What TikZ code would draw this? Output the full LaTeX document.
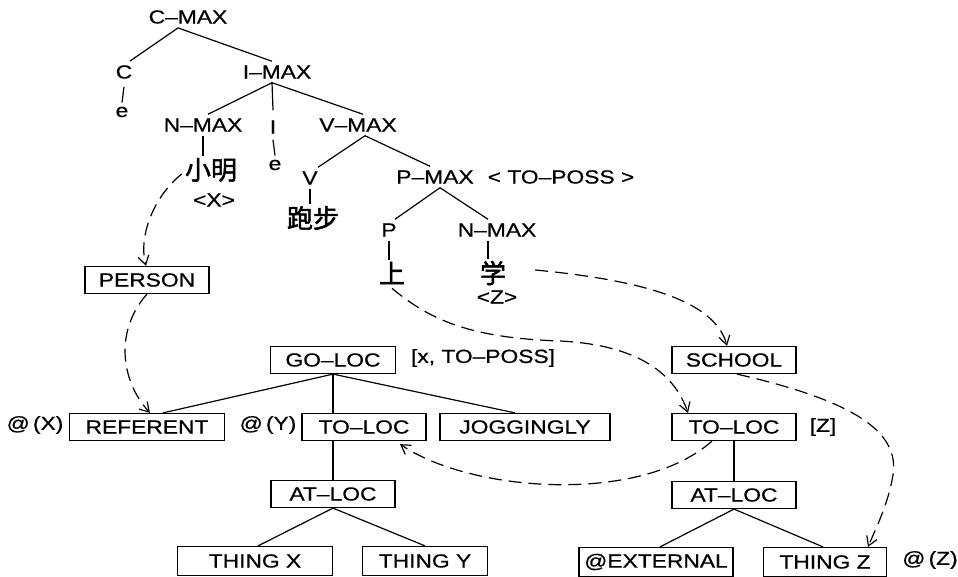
\documentclass[tikz,border=0pt]{standalone}
\usepackage{fontspec}
\setmainfont{Liberation Sans}[FakeStretch=1.2,FakeBold=0.6]
\newfontfamily\cjk{Noto Sans CJK SC}[FakeBold=2]
\usetikzlibrary{arrows.meta}
\begin{document}
\begin{tikzpicture}[x=1pt,y=-1pt,
  every node/.style={font=\fontsize{19}{22}\selectfont},
  lbl/.style={inner xsep=2pt, inner ysep=4pt},
  cj/.style={font=\fontsize{26}{28}\cjk, inner xsep=1pt, inner ysep=2pt},
  fbox/.style={draw, line width=1.2pt, minimum height=27pt, inner sep=0pt},
  edge/.style={line width=1.2pt},
  link/.style={line width=1.2pt, dash pattern=on 13pt off 7pt, -{Straight Barb[length=9pt,width=11pt]}}
]
\useasboundingbox (0,0) rectangle (958,577);
% ---- syntax tree
\node[lbl] (cmax) at (188,17) {C--MAX};
\node[lbl] (c) at (124,72) {C};
\node[lbl] (ce) at (122,112) {e};
\node[lbl] (imax) at (277,72) {I--MAX};
\node[lbl] (nmax) at (203,125) {N--MAX};
\node[cj] (xm) at (211,170) {小明};
\node[lbl] (xx) at (214,200) {<X>};
\node[lbl] (ii) at (273,127) {I};
\node[lbl] (ie) at (275,165) {e};
\node[lbl] (vmax) at (358,125) {V--MAX};
\node[lbl] (v) at (310,178) {V};
\node[cj] (pb) at (313,218) {跑步};
\node[lbl] (pmax) at (435,177) {P--MAX};
\node[lbl] (toposs) at (561,177) {< TO--POSS >};
\node[lbl] (p) at (389,230) {P};
\node[cj] (shang) at (392,273) {上};
\node[lbl] (nmaxb) at (497,230) {N--MAX};
\node[cj] (xue) at (493,273) {学};
\node[lbl] (zz) at (497,297) {<Z>};

\draw[edge] ([xshift=-10pt]cmax.south) -- ([xshift=6pt]c.north);
\draw[edge] ([xshift=-10pt]cmax.south) -- ([xshift=-5pt]imax.north);
\draw[edge] ([yshift=-4pt]c.south) -- (ce.north);
\draw[edge] ([xshift=-5pt]imax.south) -- ([xshift=5pt]nmax.north);
\draw[edge] ([xshift=-5pt]imax.south) -- ([yshift=6pt]ii.north);
\draw[edge] ([xshift=-5pt]imax.south) -- ([xshift=5pt]vmax.north);
\draw[edge] (nmax.south) -- (nmax.south |- xm.north);
\draw[edge] ([yshift=-2pt]ii.south) -- (ie.north);
\draw[edge] ([xshift=7pt]vmax.south) -- ([xshift=8pt]v.north);
\draw[edge] ([xshift=7pt]vmax.south) -- ([xshift=-5pt]pmax.north);
\draw[edge] (v.south) -- (v.south |- pb.north);
\draw[edge] ([xshift=5pt]pmax.south) -- ([xshift=6pt]p.north);
\draw[edge] ([xshift=5pt]pmax.south) -- ([xshift=-9pt]nmaxb.north);
\draw[edge] (p.south) -- (p.south |- shang.north);
\draw[edge] ([xshift=-9pt]nmaxb.south) -- ([xshift=-9pt]nmaxb.south |- xue.north);

% ---- conceptual structure
\node[fbox, minimum width=124pt] (person) at (147,280) {PERSON};
\node[fbox, minimum width=125pt] (goloc) at (333,360) {GO--LOC};
\node[lbl] (xtoposs) at (483,358) {[x, TO--POSS]};
\node[fbox, minimum width=155pt] (referent) at (147,427) {REFERENT};
\node[lbl] (atx) at (35,425) {@\,(X)};
\node[fbox, minimum width=124pt] (toloc) at (364,427) {TO--LOC};
\node[lbl] (aty) at (268,425) {@\,(Y)};
\node[fbox, minimum width=170pt] (jog) at (525,427) {JOGGINGLY};
\node[fbox, minimum width=124pt] (atloc) at (333,494) {AT--LOC};
\node[fbox, minimum width=155pt, minimum height=29pt] (thingx) at (255,561) {THING X};
\node[fbox, minimum width=125pt, minimum height=29pt] (thingy) at (425,561) {THING Y};
\node[fbox, minimum width=124pt] (school) at (734,360) {SCHOOL};
\node[fbox, minimum width=124pt] (tolocb) at (734,427) {TO--LOC};
\node[lbl] (zb) at (823,427) {[Z]};
\node[fbox, minimum width=124pt] (atlocb) at (734,495) {AT--LOC};
\node[fbox, minimum width=154pt, minimum height=29pt] (ext) at (656,562) {@EXTERNAL};
\node[fbox, minimum width=123pt, minimum height=29pt] (thingz) at (825,562) {THING Z};
\node[lbl] (atz) at (930,560) {@\,(Z)};

\draw[edge] (goloc.south) -- ([xshift=16pt]referent.north);
\draw[edge] (goloc.south) -- (goloc.south |- toloc.north);
\draw[edge] (goloc.south) -- ([xshift=-10pt]jog.north);
\draw[edge] (atloc.north |- toloc.south) -- (atloc.north);
\draw[edge] (atloc.south) -- ([xshift=3pt]thingx.north);
\draw[edge] (atloc.south) -- (thingy.north);
\draw[edge] (tolocb.south) -- (atlocb.north);
\draw[edge] (atlocb.south) -- ([xshift=4pt]ext.north);
\draw[edge] (atlocb.south) -- ([xshift=-2pt]thingz.north);

% ---- dashed links
\draw[link] ([xshift=-2pt,yshift=-4pt]xm.west) .. controls (155,195) and (138,235) .. ([xshift=-1pt]person.north);
\draw[link] (person.south) .. controls (115,330) and (120,380) .. ([xshift=3pt]referent.north);
\draw[link] ([xshift=28pt,yshift=3pt]xue.east) .. controls (640,280) and (715,300) .. ([xshift=-7pt]school.north);
\draw[link] ([yshift=-2pt]shang.south) .. controls (430,320) and (470,338) .. (560,341) .. controls (640,345) and (675,375) .. ([xshift=-46pt]tolocb.north);
\draw[link] ([xshift=-22pt]tolocb.south) .. controls (640,505) and (470,492) .. ([xshift=36pt,yshift=-3pt]toloc.south);
\draw[link] ([xshift=3pt]school.south) .. controls (850,400) and (900,430) .. (893,475) .. controls (888,505) and (875,530) .. ([xshift=43pt]thingz.north);
\end{tikzpicture}
\end{document}
